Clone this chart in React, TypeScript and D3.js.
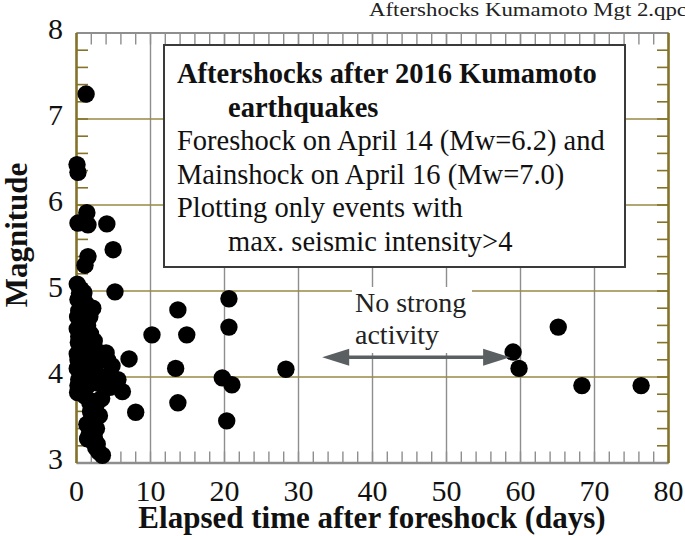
import React from 'react';
import * as d3 from 'd3';

// Elapsed days after foreshock and magnitude of each aftershock
const days = [
  1.3, 0.07, 0.2, 1.4, 0.2, 1.55, 4.1, 4.95, 1.55, 1.15, 5.2,
  0.1, 0.4, 0.2, 0.3, 0.15, 0.1, 0.3, 0.25, 0.1, 0.2, 0.1, 0.3, 0.2, 0.15,
  1.0, 1.3, 1.1, 1.5, 1.2, 1.4, 1.0, 1.6, 1.3, 1.5, 1.1,
  2.2, 2.4, 2.8, 2.5, 2.9, 2.1, 2.2, 2.0, 1.9, 1.7, 2.2, 2.6, 3.5,
  4.2, 4.8, 3.8, 5.6, 4.5, 6.2, 3.4,
  0.6, 0.9, 0.6, 0.7, 0.5, 0.7, 0.8, 1.8, 1.9, 2.0, 1.8, 2.3, 3.3, 3.0, 4.0,
  1.8, 2.6, 3.1, 2.7, 2.4, 1.5, 2.8, 3.0, 1.9, 1.4,
  13.7, 10.2, 14.9, 7.1, 13.4, 13.7, 8.0,
  20.6, 20.6, 19.7, 21.0, 20.3, 28.3,
  59.0, 59.8, 65.1, 68.3, 76.3,
];
const magnitudes = [
  7.29, 6.47, 6.38, 5.91, 5.79, 5.77, 5.78, 5.48, 5.4, 5.3, 4.99,
  5.08, 4.97, 4.9, 4.77, 4.7, 4.56, 4.47, 4.4, 4.27, 4.2, 4.1, 3.97, 3.9, 3.82,
  4.98, 4.85, 4.72, 4.6, 4.5, 4.35, 4.22, 4.12, 4.0, 3.9, 3.78,
  4.8, 4.42, 4.3, 4.05, 3.93, 3.72, 3.62, 3.5, 3.42, 3.33, 3.25, 3.18, 3.09,
  4.2, 4.13, 4.0, 3.97, 3.88, 3.83, 3.75,
  5.02, 4.92, 4.63, 4.35, 4.15, 4.02, 3.85, 4.7, 4.5, 4.25, 4.12, 3.95, 3.92, 4.18, 4.28,
  3.7, 3.66, 3.55, 3.4, 3.3, 3.28, 3.22, 3.13, 3.6, 3.45,
  4.78, 4.49, 4.49, 4.21, 4.1, 3.7, 3.59,
  4.91, 4.58, 3.99, 3.91, 3.49, 4.09,
  4.29, 4.1, 4.58, 3.9, 3.9,
];

const xTickValues = [0, 10, 20, 30, 40, 50, 60, 70, 80];
const yTickValues = [3, 4, 5, 6, 7, 8];

const boxLines = [
  { text: 'Aftershocks after 2016 Kumamoto', bold: true, indent: false },
  { text: 'earthquakes', bold: true, indent: true },
  { text: 'Foreshock on April 14 (Mw=6.2) and', bold: false, indent: false },
  { text: 'Mainshock on April 16 (Mw=7.0)', bold: false, indent: false },
  { text: 'Plotting only events with', bold: false, indent: false },
  { text: 'max. seismic intensity>4', bold: false, indent: true },
];

const noteLines = ['No strong', 'activity'];
const arrowFromDay = 33.2;
const arrowToDay = 58.6;
const arrowMag = 4.23;

const fileTitle = 'Aftershocks Kumamoto Mgt 2.qpc';
const xTitle = 'Elapsed time after foreshock (days)';
const yTitle = 'Magnitude';

const OLIVE = '#85732a';
const OLIVE_GRID = '#998a44';
const GRAY = '#8e8e8e';
const FONT = "'Liberation Serif','Times New Roman',serif";

export default function App() {
  const x = d3.scaleLinear().domain([0, 80]).range([76.5, 668.5]);
  const y = d3.scaleLinear().domain([3, 8]).range([463, 33]);
  const xMinor = d3.range(0, 81, 2);
  const yMinor = d3.range(0, 26).map((i) => 3 + i * 0.2);
  const x0 = x(0), x1 = x(80), yT = y(8), yB = y(3);
  const tick = 11.5;
  const ay = y(arrowMag);
  const ax1 = x(arrowFromDay);
  const ax2 = x(arrowToDay);
  const head = 27;
  const hh = 8.5;

  return (
    <svg
      width={685}
      height={536}
      style={{ position: 'absolute', left: 0, top: 0, display: 'block' }}
      fontFamily={FONT}
    >
      <rect x={0} y={0} width={685} height={536} fill="#fff" />

      {/* vertical gridlines */}
      {xTickValues.slice(1, -1).map((t) => (
        <line key={'vg' + t} x1={x(t)} x2={x(t)} y1={yT} y2={yB} stroke={GRAY} strokeWidth={1.4} />
      ))}
      {/* horizontal gridlines */}
      {yTickValues.slice(1, -1).map((t) => (
        <line key={'hg' + t} x1={x0} x2={x1} y1={y(t)} y2={y(t)} stroke={OLIVE_GRID} strokeWidth={1.4} />
      ))}

      {/* white background behind note */}
      <rect x={352} y={287} width={120} height={66} fill="#fff" />

      {/* x minor ticks top & bottom */}
      {xMinor.map((t) => (
        <g key={'xt' + t}>
          <line x1={x(t)} x2={x(t)} y1={yT} y2={yT + tick} stroke={GRAY} strokeWidth={1.4} />
          <line x1={x(t)} x2={x(t)} y1={yB} y2={yB - tick} stroke={GRAY} strokeWidth={1.4} />
        </g>
      ))}
      {/* y minor ticks left & right */}
      {yMinor.map((t, i) => (
        <g key={'yt' + i}>
          <line x1={x0} x2={x0 + tick} y1={y(t)} y2={y(t)} stroke={OLIVE} strokeWidth={1.6} />
          <line x1={x1} x2={x1 - tick} y1={y(t)} y2={y(t)} stroke={OLIVE} strokeWidth={1.6} />
        </g>
      ))}

      {/* frame */}
      <line x1={x0} x2={x1} y1={yT} y2={yT} stroke={GRAY} strokeWidth={2.2} />
      <line x1={x0} x2={x1} y1={yB} y2={yB} stroke={GRAY} strokeWidth={2.6} />
      <line x1={x0} x2={x0} y1={yT} y2={yB} stroke={OLIVE} strokeWidth={2.6} />
      <line x1={x1} x2={x1} y1={yT} y2={yB} stroke={OLIVE} strokeWidth={2.6} />

      {/* legend box */}
      <rect x={164} y={45} width={461} height={222} fill="#fff" stroke="#3a3a3a" strokeWidth={2} />
      {boxLines.map((l, i) => (
        <text
          key={'bl' + i}
          x={l.indent ? 228 : 177}
          y={83 + i * 33.5}
          fontSize={28.5}
          fontWeight={l.bold ? 'bold' : 'normal'}
          fill="#111"
        >
          {l.text}
        </text>
      ))}

      {/* dots */}
      {days.map((d, i) => (
        <circle key={'p' + i} cx={x(d)} cy={y(magnitudes[i])} r={8.7} fill="#000" />
      ))}

      {/* arrow */}
      <line x1={ax1 + head - 2} x2={ax2 - head + 2} y1={ay} y2={ay} stroke="#5a5f62" strokeWidth={3.5} />
      <polygon points={`${ax1},${ay} ${ax1 + head},${ay - hh} ${ax1 + head},${ay + hh}`} fill="#5a5f62" />
      <polygon points={`${ax2},${ay} ${ax2 - head},${ay - hh} ${ax2 - head},${ay + hh}`} fill="#5a5f62" />
      {noteLines.map((t, i) => (
        <text key={'nl' + i} x={355} y={312 + i * 32} fontSize={28} fill="#222">
          {t}
        </text>
      ))}

      {/* tick labels */}
      {xTickValues.map((t) => (
        <text key={'xl' + t} x={x(t)} y={501} fontSize={30} textAnchor="middle" fill="#111">
          {t}
        </text>
      ))}
      {yTickValues.map((t) => (
        <text key={'yl' + t} x={63} y={y(t) + 6} fontSize={30} textAnchor="end" fill="#111">
          {t}
        </text>
      ))}

      {/* axis titles */}
      <text x={372} y={528} fontSize={31} fontWeight="bold" textAnchor="middle" fill="#111">
        {xTitle}
      </text>
      <text
        transform={`translate(27,235) rotate(-90)`}
        fontSize={31}
        fontWeight="bold"
        textAnchor="middle"
        fill="#111"
      >
        {yTitle}
      </text>

      {/* file title */}
      <text x={369} y={16} fontSize={18} fill="#222" textLength={318} lengthAdjust="spacingAndGlyphs">
        {fileTitle}
      </text>
    </svg>
  );
}
